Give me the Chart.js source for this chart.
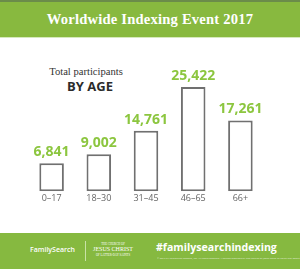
<!DOCTYPE html>
<html>
<head>
<meta charset="utf-8">
<script src="https://cdn.jsdelivr.net/npm/chart.js@4"></script>
<style>
  body { margin: 0; width: 300px; height: 269px; position: relative; overflow: hidden; background: #fff; font-family: "Open Sans", sans-serif; }
  .head { position: absolute; left: 0; top: 0; width: 300px; height: 37px; background: #88b93f; border-top: 2px solid #6b8c4a; box-sizing: border-box; }
  .head div { color: #fff; font: bold 14.6px "Liberation Serif", serif; text-align: center; line-height: 35px; letter-spacing: 0.2px; }
  .subline { position: absolute; left: 0; top: 37px; width: 300px; height: 1px; background: #d6e9bd; }
  .sub1 { position: absolute; left: 0; width: 172px; top: 66px; text-align: center; font: 10.6px "Liberation Serif", serif; color: #333; }
  .sub2 { position: absolute; left: 0; width: 180px; top: 77px; text-align: center; font: bold 13px "Open Sans", sans-serif; color: #2b2b2b; }
  canvas { position: absolute; left: 0; top: 37px; }
  .foot { position: absolute; left: 0; top: 233px; width: 300px; height: 36px; background: #86b940; color: #fff; }
  .fs { position: absolute; left: 30px; top: 12px; font: 600 7px "Open Sans", sans-serif; }
  .div { position: absolute; left: 85px; top: 8px; width: 1px; height: 20px; background: #c9e2a6; }
  .church { position: absolute; left: 90px; top: 9px; width: 46px; text-align: center; font: 3px "Liberation Serif", serif; line-height: 5px; }
  .church b { font-size: 6px; font-weight: normal; }
  .tag { position: absolute; left: 156px; top: 7px; font: bold 10.6px "Open Sans", sans-serif; }
  .tiny { position: absolute; left: 157px; top: 23px; font: 2.5px "Open Sans", sans-serif; opacity: 0.8; }
</style>
</head>
<body>
<div class="head"><div>Worldwide Indexing Event 2017</div></div>
<div class="subline"></div>
<div class="sub1">Total participants</div>
<div class="sub2">BY AGE</div>
<canvas id="ageChart" width="300" height="196"></canvas>
<div class="foot">
  <div class="fs">FamilySearch</div>
  <div class="div"></div>
  <div class="church">THE CHURCH OF<br><b>JESUS CHRIST</b><br>OF LATTER-DAY SAINTS</div>
  <div class="tag">#familysearchindexing</div>
  <div class="tiny">© 2017 by Intellectual Reserve, Inc. All rights reserved. A service provided by The Church of Jesus Christ of Latter-day Saints</div>
</div>
<script>
const ageGroups = ['0–17', '18–30', '31–45', '46–65', '66+'];
const participants = [6841, 9002, 14761, 25422, 17261];

// write the number above each bar
const valueLabels = {
    id: 'valueLabels',
    afterDatasetsDraw(chart) {
        const ctx = chart.ctx;
        const meta = chart.getDatasetMeta(0);
        ctx.save();
        ctx.fillStyle = '#8cc63f';
        ctx.font = 'bold 14px "Open Sans", sans-serif';
        ctx.textAlign = 'center';
        ctx.textBaseline = 'alphabetic';
        meta.data.forEach((bar, i) => {
            ctx.fillText(participants[i].toLocaleString('en-US'), bar.x, bar.y - 7);
        });
        ctx.restore();
    }
};

new Chart(document.getElementById('ageChart'), {
    type: 'bar',
    data: {
        labels: ageGroups,
        datasets: [{
            data: participants,
            backgroundColor: '#ffffff',
            borderColor: '#707070',
            borderWidth: 2,
            borderSkipped: false,
            barPercentage: 0.52,
            categoryPercentage: 1
        }]
    },
    options: {
        responsive: false,
        animation: false,
        layout: {padding: {top: 50, left: 28, right: 36, bottom: 27}},
        plugins: {legend: {display: false}, tooltip: {enabled: false}},
        scales: {
            x: {
                grid: {display: false, drawTicks: false},
                border: {display: false},
                ticks: {color: '#666', font: {family: 'Open Sans', size: 9}, padding: 2}
            },
            y: {display: false, min: 0, max: 25422}
        }
    },
    plugins: [valueLabels]
});
</script>
</body>
</html>
